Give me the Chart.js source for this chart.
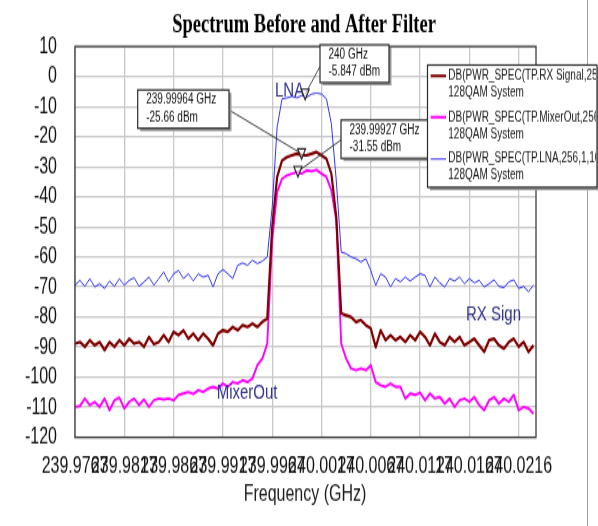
<!DOCTYPE html>
<html>
<head>
<meta charset="utf-8">
<title>Spectrum Before and After Filter</title>
<script src="https://cdn.jsdelivr.net/npm/chart.js@4.4.1/dist/chart.umd.min.js"></script>
<style>
  html, body { margin: 0; padding: 0; background: #fff; overflow: hidden; }
  #wrap { width: 598px; height: 526px; }
  /* the original picture is stretched vertically, so draw at 598x376 and stretch */
  #spectrum { display: block; transform: scaleY(1.39894); transform-origin: 0 0; }
</style>
</head>
<body>
<div id="wrap"><canvas id="spectrum" width="598" height="376"></canvas></div>
<script>
// frequency grid of the traces (GHz)
const freqStart = 239.97671;
const freqStep = 0.00049889;

const xMin = 239.97671;
const xMax = 240.02336;
const xTickValues = [239.97671, 239.98170, 239.98669, 239.99168, 239.99667, 240.00165, 240.00664, 240.01163, 240.01662, 240.02161];
const xTickLabels = ["239.9767", "239.9817", "239.9867", "239.9917", "239.9967", "240.0017", "240.0067", "240.0117", "240.0167", "240.0216"];
const yMin = -120;
const yMax = 10;
const yStep = 10;

const seriesNames = [
	"DB(PWR_SPEC(TP.RX Signal,256,1,10,1,0,100))",
	"DB(PWR_SPEC(TP.MixerOut,256,1,10,1,0,100))",
	"DB(PWR_SPEC(TP.LNA,256,1,10,1,0,100))",
];
const seriesSub = "128QAM System";
const seriesColors = ["#800000", "#ff00ff", "#3434f4"];

// dBm
const rxDb = [
	-88.8, -88.3, -89.9, -87.7, -89.4, -88.3, -91, -88.3, -89.9, -87.7,
	-89.4, -87.2, -88.8, -88.3, -89.9, -86.6, -89, -88.3, -86, -88.3,
	-84.9, -86, -84.4, -87.2, -85.5, -87.7, -85.5, -87.2, -89.4, -85.5,
	-84.4, -84.9, -83.3, -84.4, -82.7, -83.3, -82.2, -83.3, -81.6, -80.5,
	-50, -33.4, -27.9, -26.8, -26.2, -25.7, -26.2, -26.2, -25.7, -25.1,
	-26.2, -27.4, -32.3, -46.7, -78.8, -79.4, -80, -81.6, -81, -82.7,
	-83.8, -90, -84.4, -87.7, -86, -87.7, -86.6, -88.3, -86, -87.7,
	-84.9, -86.6, -89.4, -85.5, -88.3, -89.4, -86.6, -88.3, -86.6, -89.4,
	-88.3, -87.2, -89.4, -91.6, -87.7, -87.2, -89.4, -90.5, -88.3, -87.2,
	-89.9, -88.3, -91.6, -89.4,
];
const mixerDb = [
	-109.9, -109.6, -107.1, -109.3, -108.2, -109.9, -107.1, -111, -107.7, -106.8,
	-110.4, -108.2, -107.1, -109.3, -107.4, -109.9, -107.7, -107.1, -107.4, -107.1,
	-107.7, -105.9, -105.4, -104.9, -105.6, -104.3, -104.9, -103.8, -103.2, -103.8,
	-102.1, -103.2, -101.6, -102.1, -101, -101.6, -100.4, -96, -93.8, -88.8,
	-54.5, -38.4, -34, -32.9, -32.3, -31.8, -32.3, -31.2, -31.5, -31,
	-32.3, -33.4, -37.9, -47.8, -88.8, -93.8, -97.1, -97.7, -97.1, -97.7,
	-96, -101.6, -102.7, -103.2, -102.1, -103.2, -103.2, -107.1, -105.4, -105.9,
	-105.1, -107.7, -105.4, -107.1, -106.6, -108.8, -107.1, -109.9, -107.7, -107.1,
	-108.2, -106.6, -109.3, -111, -107.7, -106.6, -108.8, -107.1, -108.2, -105.9,
	-111, -109.9, -110.4, -112.1,
];
const lnaDb = [
	-69.4, -67.8, -69.8, -67.2, -70, -68.9, -70.5, -68, -69.8, -67.2,
	-69.4, -67.8, -66.9, -69.8, -68.3, -66.7, -69.4, -67.2, -65, -68.3,
	-65.6, -64.5, -67.2, -65.6, -68, -65.6, -66.7, -66.1, -70, -65.6,
	-64.2, -65.6, -67.2, -62.8, -62, -62.8, -61.1, -62.2, -61.4, -60,
	-43.4, -16.8, -7.4, -7.1, -6.6, -7.1, -6.3, -6.9, -5.8, -5.5,
	-5.8, -7.4, -15.7, -34.6, -58.4, -58.9, -60, -60.6, -61.7, -60.6,
	-64.5, -69.5, -65.6, -66.7, -70, -67.2, -68.3, -66.7, -68, -66.7,
	-65.6, -66.1, -70, -66.7, -68.6, -70, -67.2, -68, -66.7, -68.9,
	-67.2, -68.6, -67.8, -70, -68.9, -67.6, -69.8, -70.2, -68.3, -67.6,
	-70.5, -69.8, -71.6, -69.4,
];

// markers
const markerFreq = [240.0, 239.99964, 239.99927];
const markerDb = [-5.847, -25.66, -31.55];
const markerText = [
	["240 GHz", "-5.847 dBm"],
	["239.99964 GHz", "-25.66 dBm"],
	["239.99927 GHz", "-31.55 dBm"],
];

// trace names written on the plot
const traceNames = ["LNA", "RX Sign", "MixerOut"];

const sans = "'Liberation Sans', Arial, sans-serif";

const toPoints = (vals) => vals.map((v, i) => ({ x: freqStart + i * freqStep, y: v }));

// box for each marker readout: x, y, w, h and where the leader leaves the box
const markerBoxes = [
	{ x: 320, y: 32, w: 69, h: 27, lx: 320, ly: 47.5 },
	{ x: 137.7, y: 64.3, w: 91.3, h: 27.4, lx: 229, ly: 78.6 },
	{ x: 341, y: 85.8, w: 87, h: 27.4, lx: 341, ly: 100 },
];
const tracePos = [
	{ x: 275, y: 64.5 },
	{ x: 466, y: 224.4 },
	{ x: 216.7, y: 281.1 },
];

const drawBox = (ctx, x, y, w, h) => {
	ctx.fillStyle = "#9a9a9a";
	ctx.fillRect(x + 2.5, y + 2, w, h);
	ctx.fillStyle = "#ffffff";
	ctx.fillRect(x, y, w, h);
	ctx.strokeStyle = "#2a2a2a";
	ctx.lineWidth = 1.2;
	ctx.strokeRect(x, y, w, h);
};

const decorations = {
	id: "decorations",
	afterDatasetsDraw(chart) {
		const ctx = chart.ctx;
		const area = chart.chartArea;
		const xs = chart.scales.x;
		const ys = chart.scales.y;
		ctx.save();

		// plot frame
		ctx.strokeStyle = "#3c3c3c";
		ctx.lineWidth = 1.3;
		ctx.strokeRect(area.left, area.top, area.right - area.left, area.bottom - area.top);

		// trace names
		ctx.fillStyle = "#34348e";
		ctx.font = "15px " + sans;
		ctx.textBaseline = "middle";
		ctx.textAlign = "left";
		traceNames.forEach((t, i) => ctx.fillText(t, tracePos[i].x, tracePos[i].y));

		// markers, leaders and readout boxes
		markerFreq.forEach((f, i) => {
			const px = xs.getPixelForValue(f);
			const py = ys.getPixelForValue(markerDb[i]);
			const b = markerBoxes[i];
			ctx.strokeStyle = "#333333";
			ctx.lineWidth = 0.9;
			ctx.beginPath();
			ctx.moveTo(b.lx, b.ly);
			ctx.lineTo(px, py);
			ctx.stroke();

			ctx.fillStyle = "rgba(255,255,255,0.6)";
			ctx.strokeStyle = "#222222";
			ctx.lineWidth = 1.1;
			ctx.beginPath();
			ctx.moveTo(px - 4, py - 3.5);
			ctx.lineTo(px + 4, py - 3.5);
			ctx.lineTo(px, py + 4);
			ctx.closePath();
			ctx.fill();
			ctx.stroke();
		});
		markerBoxes.forEach((b, i) => {
			drawBox(ctx, b.x, b.y, b.w, b.h);
			ctx.fillStyle = "#111111";
			ctx.font = "10px " + sans;
			ctx.textAlign = "left";
			ctx.textBaseline = "middle";
			ctx.fillText(markerText[i][0], b.x + 8.5, b.y + 7.3);
			ctx.fillText(markerText[i][1], b.x + 8.5, b.y + 19.5);
		});

		// chart title and axis title
		ctx.fillStyle = "#000000";
		ctx.textAlign = "center";
		ctx.textBaseline = "middle";
		ctx.font = "bold 18.5px 'Liberation Serif', 'Times New Roman', serif";
		ctx.fillText("Spectrum Before and After Filter", 304, 18);
		ctx.fillStyle = "#1a1a1a";
		ctx.font = "16px " + sans;
		ctx.fillText("Frequency (GHz)", 305, 354);

		// window edge line
		ctx.strokeStyle = "#a0a0a0";
		ctx.lineWidth = 1;
		ctx.beginPath();
		ctx.moveTo(587.5, 0);
		ctx.lineTo(587.5, 376);
		ctx.stroke();

		// legend
		const lg = { x: 427.5, y: 46.5, w: 169.5, h: 87.4 };
		drawBox(ctx, lg.x, lg.y, lg.w, lg.h);
		ctx.beginPath();
		ctx.rect(lg.x + 1, lg.y + 1, lg.w - 2, lg.h - 2);
		ctx.clip();
		const rows = [54.3, 83.8, 113.7];
		chart.data.datasets.forEach((ds, i) => {
			ctx.strokeStyle = ds.borderColor;
			ctx.lineWidth = i === 2 ? 1 : 2;
			ctx.beginPath();
			ctx.moveTo(430.7, rows[i]);
			ctx.lineTo(446, rows[i]);
			ctx.stroke();
			ctx.fillStyle = "#1a1a1a";
			ctx.font = "10px " + sans;
			ctx.textAlign = "left";
			ctx.fillText(ds.label, 448.3, rows[i]);
			ctx.fillText(seriesSub, 448.3, rows[i] + 12);
		});
		ctx.restore();
	},
};

const gridStyle = { color: "#c8c8c8", lineWidth: 1.3, drawTicks: false };

const chartSpectrum = new Chart(document.getElementById("spectrum"), {
	type: "line",
	data: {
		datasets: [
			{ label: seriesNames[0], data: toPoints(rxDb), borderColor: seriesColors[0], borderWidth: 2.2 },
			{ label: seriesNames[1], data: toPoints(mixerDb), borderColor: seriesColors[1], borderWidth: 1.9 },
			{ label: seriesNames[2], data: toPoints(lnaDb), borderColor: seriesColors[2], borderWidth: 1 },
		],
	},
	options: {
		responsive: false,
		animation: false,
		devicePixelRatio: 1,
		layout: { padding: { top: 33.2, right: 62, bottom: 0, left: 0 } },
		elements: {
			point: { radius: 0 },
			line: { tension: 0, borderJoinStyle: "round" },
		},
		plugins: {
			legend: { display: false },
			title: { display: false },
			tooltip: { enabled: false },
		},
		scales: {
			x: {
				type: "linear",
				min: xMin,
				max: xMax,
				afterBuildTicks: (axis) => {
					axis.ticks = xTickValues.map((v) => ({ value: v }));
				},
				afterFit: (axis) => {
					axis.height = 63.4;
				},
				ticks: {
					autoSkip: false,
					maxRotation: 0,
					minRotation: 0,
					padding: 11,
					color: "#111111",
					font: { family: sans, size: 16 },
					callback: (value, index) => xTickLabels[index],
				},
				grid: gridStyle,
				border: { display: false },
			},
			y: {
				min: yMin,
				max: yMax,
				afterFit: (axis) => {
					axis.width = 75;
				},
				ticks: {
					stepSize: yStep,
					autoSkip: false,
					padding: 18,
					color: "#111111",
					font: { family: sans, size: 16 },
				},
				grid: gridStyle,
				border: { display: false },
			},
		},
	},
	plugins: [decorations],
});
</script>
</body>
</html>
